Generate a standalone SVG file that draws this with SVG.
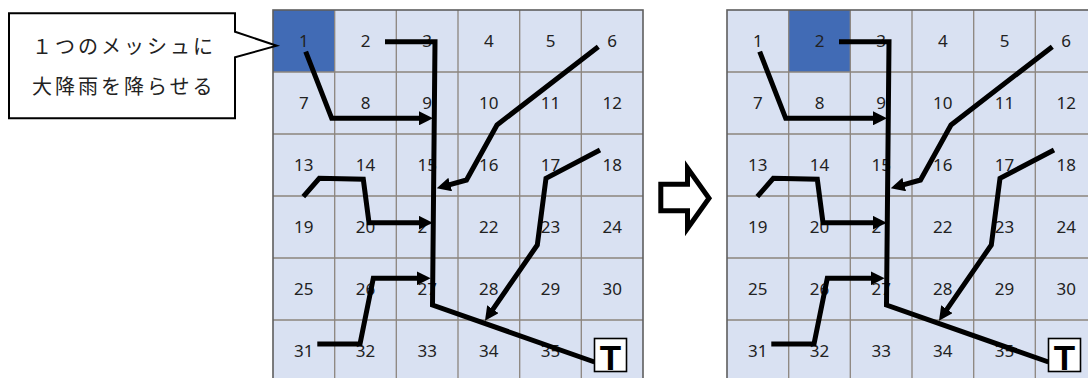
<svg xmlns="http://www.w3.org/2000/svg" xmlns:xlink="http://www.w3.org/1999/xlink" width="1088" height="378" viewBox="0 0 1088 378">
<style>
.bg{fill:#D9E1F2;stroke:none}
.hl{fill:#416BB5;stroke:none}
.gl{stroke:#8C857E;stroke-width:1.3;fill:none}
.gb{stroke:#5E5E5E;stroke-width:1.6;fill:none}
.num{font-family:"Noto Sans","DejaVu Sans",sans-serif;font-size:17px;fill:#222;text-anchor:middle}
.flow{fill:none;stroke:#000;stroke-width:5;stroke-linejoin:miter;stroke-linecap:butt}
.arr{marker-end:url(#ah)}
.tbox{fill:#fff;stroke:#000;stroke-width:1.6}
.tlab{font-family:"Liberation Sans",Arial,sans-serif;font-weight:bold;font-size:35px;fill:#000;text-anchor:middle}
.call{fill:#fff;stroke:#000;stroke-width:2}
.ctext{font-family:"Noto Sans CJK JP","Noto Sans",sans-serif;font-size:20px;fill:#222;letter-spacing:3px}
</style>
<defs>
<marker id="ah" markerUnits="userSpaceOnUse" markerWidth="14" markerHeight="14" refX="5" refY="7" orient="auto">
<path d="M0,0 L14,7 L0,14 Z" fill="#000"/>
</marker>
<g id="gridlines">
<path class="gl" d="M334.7,10V382M396.3,10V382M458,10V382M519.7,10V382M581.3,10V382M273,72H643M273,134H643M273,196H643M273,258H643M273,320H643"/>
<rect class="gb" x="273" y="10" width="370" height="372"/>
<g class="num">
<text x="303.8" y="47">1</text><text x="365.5" y="47">2</text><text x="427.2" y="47">3</text><text x="488.8" y="47">4</text><text x="550.5" y="47">5</text><text x="612.2" y="47">6</text>
<text x="303.8" y="109">7</text><text x="365.5" y="109">8</text><text x="427.2" y="109">9</text><text x="488.8" y="109">10</text><text x="550.5" y="109">11</text><text x="612.2" y="109">12</text>
<text x="303.8" y="171">13</text><text x="365.5" y="171">14</text><text x="427.2" y="171">15</text><text x="488.8" y="171">16</text><text x="550.5" y="171">17</text><text x="612.2" y="171">18</text>
<text x="303.8" y="233">19</text><text x="365.5" y="233">20</text><text x="427.2" y="233">21</text><text x="488.8" y="233">22</text><text x="550.5" y="233">23</text><text x="612.2" y="233">24</text>
<text x="303.8" y="295">25</text><text x="365.5" y="295">26</text><text x="427.2" y="295">27</text><text x="488.8" y="295">28</text><text x="550.5" y="295">29</text><text x="612.2" y="295">30</text>
<text x="303.8" y="357">31</text><text x="365.5" y="357">32</text><text x="427.2" y="357">33</text><text x="488.8" y="357">34</text><text x="550.5" y="357">35</text>
</g>
</g>
<g id="flows">
<path class="flow arr" d="M305.7,51.7 L331.7,118.3 L424,118.3"/>
<path class="flow" d="M385,41.7 L435,41.7 L432.5,305 L594.5,362"/>
<path class="flow arr" d="M598.3,46.7 L497,125 L466.5,180 L445.4,185.9"/>
<path class="flow arr" d="M600,150 L546,178.3 L537.3,245 L490.1,313.3"/>
<path class="flow arr" d="M303.3,196.7 L319.3,178.3 L363.3,179.3 L369,222.7 L423.7,222.7"/>
<path class="flow arr" d="M317.3,344 L360,344 L373.3,278.3 L421.7,278.3"/>
</g>
<g id="terminal">
<rect class="tbox" x="594.5" y="338.5" width="32" height="33"/>
<text class="tlab" x="610.5" y="370">T</text>
</g>
</defs>

<g id="grid-left">
<rect class="bg" x="273" y="10" width="370" height="372"/>
<rect class="hl" x="273" y="10" width="61.7" height="62"/>
<use xlink:href="#gridlines"/>
</g>
<g id="connectors-left">
<use xlink:href="#flows"/>
</g>
<g id="node-T-left">
<use xlink:href="#terminal"/>
</g>

<g id="grid-right" transform="translate(454,0)">
<rect class="bg" x="273" y="10" width="370" height="372"/>
<rect class="hl" x="334.7" y="10" width="61.6" height="62"/>
<use xlink:href="#gridlines"/>
</g>
<g id="connectors-right" transform="translate(454,0)">
<use xlink:href="#flows"/>
</g>
<g id="node-T-right" transform="translate(454,0)">
<use xlink:href="#terminal"/>
</g>

<g id="callout">
<path class="call" d="M9,13.3 H235 V31.7 L276.7,45.7 L235,57.3 V118.3 H9 Z"/>
<text class="ctext" x="32" y="54">１つのメッシュに</text>
<text class="ctext" x="32" y="94">大降雨を降らせる</text>
</g>

<g id="transition-arrow">
<path d="M660.8,184.2 H687.5 V168 L709,198.3 L687.5,228.5 V210.8 H660.8 Z" fill="#fff" stroke="#000" stroke-width="5" stroke-linejoin="miter"/>
</g>
</svg>
